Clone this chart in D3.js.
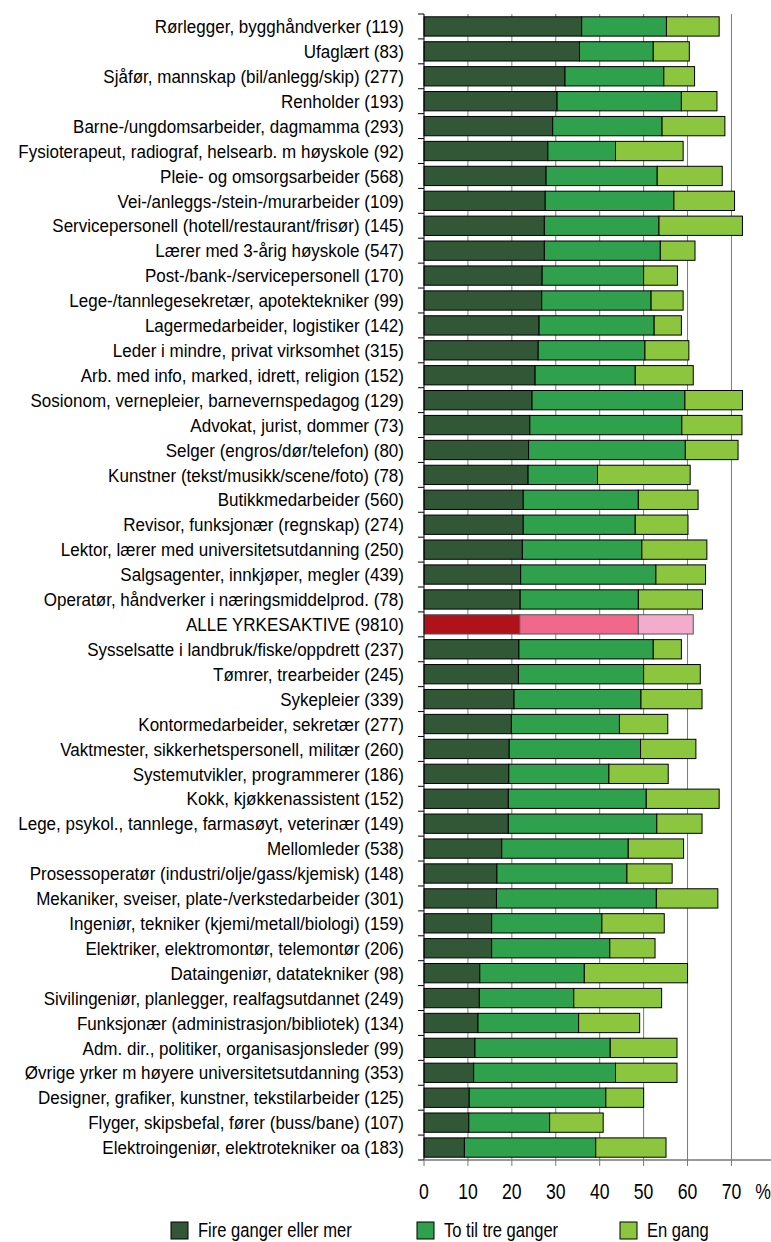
<!DOCTYPE html>
<html>
<head>
<meta charset="utf-8">
<script src="https://cdn.jsdelivr.net/npm/d3@7"></script>
<style>
  body { margin: 0; background: #fff; }
  text { font-family: "Liberation Sans", Arial, sans-serif; fill: #000; }
</style>
</head>
<body>
<div id="chart"></div>
<script>
// ===== Data =====
const categories = [
    "Rørlegger, bygghåndverker (119)",
    "Ufaglært (83)",
    "Sjåfør, mannskap (bil/anlegg/skip) (277)",
    "Renholder (193)",
    "Barne-/ungdomsarbeider, dagmamma (293)",
    "Fysioterapeut, radiograf, helsearb. m høyskole (92)",
    "Pleie- og omsorgsarbeider (568)",
    "Vei-/anleggs-/stein-/murarbeider (109)",
    "Servicepersonell (hotell/restaurant/frisør) (145)",
    "Lærer med 3-årig høyskole (547)",
    "Post-/bank-/servicepersonell (170)",
    "Lege-/tannlegesekretær, apotektekniker (99)",
    "Lagermedarbeider, logistiker (142)",
    "Leder i mindre, privat virksomhet (315)",
    "Arb. med info, marked, idrett, religion (152)",
    "Sosionom, vernepleier, barnevernspedagog (129)",
    "Advokat, jurist, dommer (73)",
    "Selger (engros/dør/telefon) (80)",
    "Kunstner (tekst/musikk/scene/foto) (78)",
    "Butikkmedarbeider (560)",
    "Revisor, funksjonær (regnskap) (274)",
    "Lektor, lærer med universitetsutdanning (250)",
    "Salgsagenter, innkjøper, megler (439)",
    "Operatør, håndverker i næringsmiddelprod. (78)",
    "ALLE YRKESAKTIVE (9810)",
    "Sysselsatte i landbruk/fiske/oppdrett (237)",
    "Tømrer, trearbeider (245)",
    "Sykepleier (339)",
    "Kontormedarbeider, sekretær (277)",
    "Vaktmester, sikkerhetspersonell, militær (260)",
    "Systemutvikler, programmerer (186)",
    "Kokk, kjøkkenassistent (152)",
    "Lege, psykol., tannlege, farmasøyt, veterinær (149)",
    "Mellomleder (538)",
    "Prosessoperatør (industri/olje/gass/kjemisk) (148)",
    "Mekaniker, sveiser, plate-/verkstedarbeider (301)",
    "Ingeniør, tekniker (kjemi/metall/biologi) (159)",
    "Elektriker, elektromontør, telemontør (206)",
    "Dataingeniør, datatekniker (98)",
    "Sivilingeniør, planlegger, realfagsutdannet (249)",
    "Funksjonær (administrasjon/bibliotek) (134)",
    "Adm. dir., politiker, organisasjonsleder (99)",
    "Øvrige yrker m høyere universitetsutdanning (353)",
    "Designer, grafiker, kunstner, tekstilarbeider (125)",
    "Flyger, skipsbefal, fører (buss/bane) (107)",
    "Elektroingeniør, elektrotekniker oa (183)"
];

const fireGanger = [35.9, 35.4, 32.1, 30.3, 29.3, 28.2, 27.8, 27.6, 27.4, 27.4,
    26.9, 26.8, 26.2, 26.0, 25.3, 24.6, 24.1, 23.8, 23.7, 22.6,
    22.6, 22.4, 22.0, 21.9, 21.8, 21.6, 21.5, 20.5, 19.9, 19.4,
    19.3, 19.2, 19.2, 17.7, 16.6, 16.5, 15.4, 15.4, 12.7, 12.6,
    12.3, 11.6, 11.3, 10.3, 10.2, 9.2];

const toTilTre = [19.3, 16.8, 22.5, 28.3, 24.9, 15.4, 25.3, 29.3, 26.1, 26.4,
    23.1, 24.9, 26.2, 24.3, 22.8, 34.8, 34.6, 35.7, 15.8, 26.2,
    25.5, 27.2, 30.8, 26.9, 27.0, 30.6, 28.5, 28.9, 24.6, 29.9,
    22.8, 31.4, 33.8, 28.8, 29.6, 36.4, 25.1, 26.9, 23.8, 21.5,
    22.9, 30.8, 32.3, 31.1, 18.4, 29.9];

const enGang = [12.0, 8.2, 7.0, 8.1, 14.3, 15.4, 14.8, 13.8, 19.0, 7.9,
    7.7, 7.3, 6.2, 10.0, 13.2, 13.1, 13.7, 12.0, 21.1, 13.6,
    12.0, 14.8, 11.3, 14.6, 12.5, 6.4, 12.9, 13.9, 11.0, 12.6,
    13.5, 16.6, 10.3, 12.6, 10.3, 14.0, 14.2, 10.3, 23.5, 20.0,
    13.9, 15.2, 14.0, 8.6, 12.2, 16.0];

const seriesNames = ["Fire ganger eller mer", "To til tre ganger", "En gang"];
const xTicks = [0, 10, 20, 30, 40, 50, 60, 70];
const highlight = "ALLE YRKESAKTIVE (9810)";

// ===== Setup =====
const width = 771;
const height = 1242;
const colors = ["#325737", "#2fa04b", "#8cc63f"];
const hiColors = ["#b0121b", "#f0688a", "#f4accd"];

const svg = d3.select("#chart")
    .append("svg")
    .attr("width", width)
    .attr("height", height);

const x = d3.scaleLinear().domain([0, 79]).range([424, 771]);
const y = d3.scaleBand()
    .domain(categories)
    .range([14, 1160])
    .paddingInner(0.225)
    .paddingOuter(0.1125);

const rows = categories.map((c, i) => ({
    name: c,
    values: [fireGanger[i], toTilTre[i], enGang[i]]
}));

// condensed-looking text: taller glyphs squeezed horizontally
function narrowText(sel, px, py, size, sx) {
    return sel.append("text")
        .attr("transform", `translate(${px},${py}) scale(${sx},1)`)
        .style("font-size", size + "px");
}

// ===== Gridlines =====
svg.append("g")
    .selectAll("line")
    .data(xTicks.slice(1))
    .join("line")
    .attr("x1", d => x(d))
    .attr("x2", d => x(d))
    .attr("y1", y.range()[0])
    .attr("y2", y.range()[1])
    .attr("stroke", "#7a7a7a")
    .attr("stroke-width", 1);

// ===== Bars =====
const barG = svg.append("g");
rows.forEach(r => {
    let acc = 0;
    const pal = r.name === highlight ? hiColors : colors;
    r.values.forEach((v, k) => {
        barG.append("rect")
            .attr("x", x(acc))
            .attr("y", y(r.name))
            .attr("width", x(acc + v) - x(acc))
            .attr("height", y.bandwidth())
            .attr("fill", pal[k])
            .attr("stroke", r.name === highlight ? "#555" : "#000")
            .attr("stroke-width", 1);
        acc += v;
    });
});

// ===== Y axis =====
const step = y.step();
const y0 = y.range()[0];
const boundaries = d3.range(categories.length + 1).map(i => y0 + i * step);

svg.append("line")
    .attr("x1", x(0)).attr("x2", x(0))
    .attr("y1", y0).attr("y2", y.range()[1])
    .attr("stroke", "#000");

svg.append("g")
    .selectAll("line")
    .data(boundaries)
    .join("line")
    .attr("x1", x(0) - 6)
    .attr("x2", x(0))
    .attr("y1", d => d)
    .attr("y2", d => d)
    .attr("stroke", "#000");

const labelG = svg.append("g");
categories.forEach(c => {
    narrowText(labelG, 404, y(c) + y.bandwidth() / 2, 18.5, 0.92)
        .attr("dy", "0.36em")
        .attr("text-anchor", "end")
        .text(c);
});

// ===== X axis =====
const axisY = y.range()[1];
svg.append("line")
    .attr("x1", x(0)).attr("x2", width)
    .attr("y1", axisY).attr("y2", axisY)
    .attr("stroke", "#777")
    .attr("stroke-width", 1.5);

svg.append("g")
    .selectAll("line")
    .data(xTicks)
    .join("line")
    .attr("x1", d => x(d))
    .attr("x2", d => x(d))
    .attr("y1", axisY)
    .attr("y2", axisY + 6)
    .attr("stroke", "#777");

const tickG = svg.append("g");
xTicks.forEach(t => {
    narrowText(tickG, x(t), axisY + 39, 22, 0.8)
        .attr("text-anchor", "middle")
        .text(t);
});
narrowText(tickG, 763, axisY + 39, 22, 0.8)
    .attr("text-anchor", "middle")
    .text("%");

// ===== Legend =====
const legendX = [171, 417, 620];
const legend = svg.append("g")
    .selectAll("g")
    .data(seriesNames)
    .join("g")
    .attr("transform", (d, i) => `translate(${legendX[i]},1222)`);

legend.append("rect")
    .attr("width", 17)
    .attr("height", 17)
    .attr("fill", (d, i) => colors[i])
    .attr("stroke", "#000");

legend.each(function (d) {
    narrowText(d3.select(this), 27, 15, 19.5, 0.85).text(d);
});
</script>
</body>
</html>
